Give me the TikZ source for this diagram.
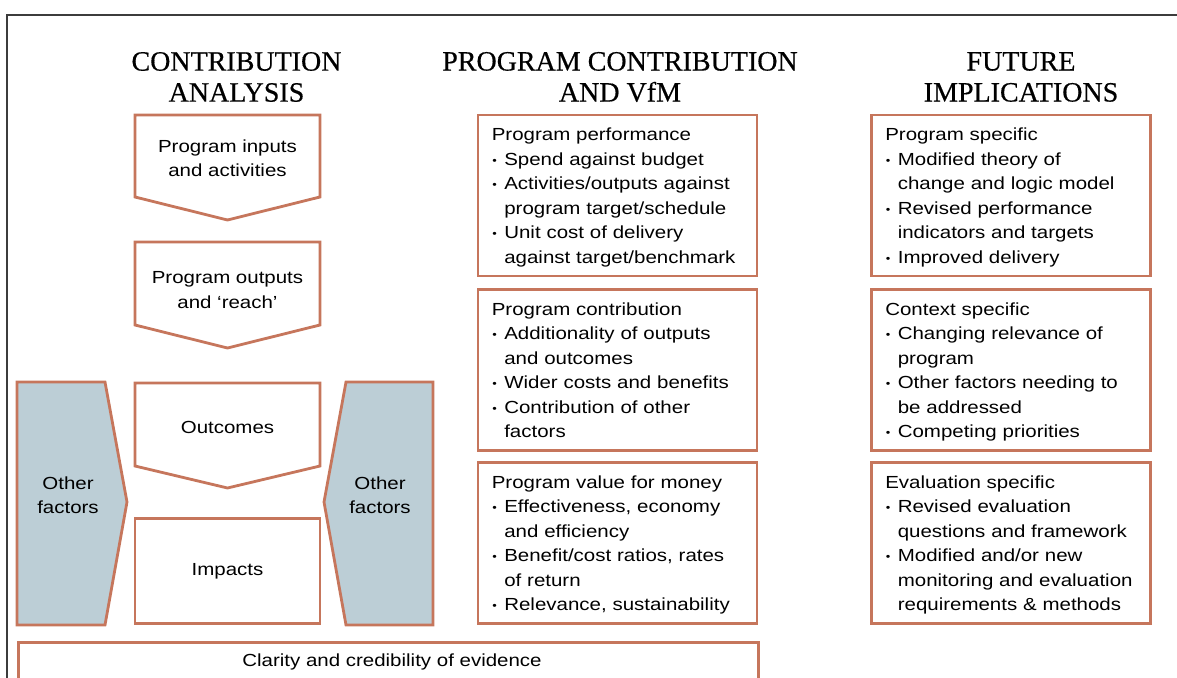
\documentclass[tikz,border=0pt]{standalone}
\usepackage{fontspec}
\setmainfont{Liberation Serif}
\newfontfamily\headfont[FakeBold=0.5]{Liberation Serif}
\newfontfamily\boxfont[FakeStretch=1.17]{Liberation Sans}
\definecolor{rust}{RGB}{198,118,92}
\definecolor{factorblue}{RGB}{188,206,214}
\definecolor{framegray}{RGB}{60,60,60}
\newcommand{\bul}{\makebox[12.5pt][l]{\hspace{0.5pt}\raisebox{1.2pt}{\fontsize{11}{11}\selectfont\textbullet}}}
\newcommand{\cont}{\hspace*{12.5pt}}
\tikzset{
  head/.style={align=center, font=\headfont\fontsize{28}{31}\selectfont},
  brdr/.style={draw=rust, line width=2.8pt},
  listbox/.style={brdr, rectangle, minimum width=279pt, minimum height=161pt, inner sep=0pt},
  listtext/.style={anchor=north west, inner sep=0pt, text width=262pt, align=left,
    font=\boxfont\fontsize{17.5}{24.5}\selectfont},
  chevtext/.style={align=center, inner sep=0pt, font=\boxfont\fontsize{17.5}{24.5}\selectfont}
}
\begin{document}
\begin{tikzpicture}[x=1pt, y=-1pt]
  \clip (0,0) rectangle (1177,677);
  % Frame
  \draw[framegray, line width=1.6pt] (1177,15) -- (7,15) -- (7,690);
  % Headers
  \node (hcontrib) [head] at (236.5,77) {CONTRIBUTION\\ANALYSIS};
  \node (hvfm) [head] at (620,77) {PROGRAM CONTRIBUTION\\AND VfM};
  \node (hfuture) [head] at (1021,77) {FUTURE\\IMPLICATIONS};
  % Contribution chain
  \draw[brdr, fill=white] (135,115) -- (320,115) -- (320,197) -- (227.5,220) -- (135,197) -- cycle;
  \draw[brdr, fill=white] (135,242) -- (320,242) -- (320,325) -- (227.5,348) -- (135,325) -- cycle;
  \draw[brdr, fill=white] (135,383) -- (320,383) -- (320,466) -- (227.5,488) -- (135,466) -- cycle;
  \node (impacts) [brdr, rectangle, minimum width=185pt, minimum height=105pt] at (227.5,571) {};
  \node (inputs) [chevtext] at (227.5,158) {Program inputs\\and activities};
  \node (outputs) [chevtext] at (227.5,290) {Program outputs\\and ‘reach’};
  \node (outcomes) [chevtext] at (227.5,427) {Outcomes};
  \node (impactstxt) [chevtext] at (impacts.center) {Impacts};
  % Other factors
  \draw[brdr, fill=factorblue] (17,382) -- (105,382) -- (127,502) -- (105,625) -- (17,625) -- cycle;
  \draw[brdr, fill=factorblue] (433,382) -- (346,382) -- (324,502) -- (346,625) -- (433,625) -- cycle;
  \node (factorsl) [chevtext] at (68,495) {Other\\factors};
  \node (factorsr) [chevtext] at (380,495) {Other\\factors};
  % Program contribution and VfM
  \node (perf) [listbox] at (617.5,195.5) {};
  \node (contrib) [listbox] at (617.5,370) {};
  \node (value) [listbox] at (617.5,543) {};
  \node (perftxt) [listtext] at ([shift={(15,10)}]perf.north west) {\strut Program performance\\
    \bul Spend against budget\\
    \bul Activities/outputs against\\ \cont program target/schedule\\
    \bul Unit cost of delivery\\ \cont against target/benchmark};
  \node (contribtxt) [listtext] at ([shift={(15,10)}]contrib.north west) {\strut Program contribution\\
    \bul Additionality of outputs\\ \cont and outcomes\\
    \bul Wider costs and benefits\\
    \bul Contribution of other\\ \cont factors};
  \node (valuetxt) [listtext] at ([shift={(15,10)}]value.north west) {\strut Program value for money\\
    \bul Effectiveness, economy\\ \cont and efficiency\\
    \bul Benefit/cost ratios, rates\\ \cont of return\\
    \bul Relevance, sustainability};
  % Future implications
  \node (progspec) [listbox] at (1011,195.5) {};
  \node (contspec) [listbox] at (1011,370) {};
  \node (evalspec) [listbox] at (1011,543) {};
  \node (progspectxt) [listtext] at ([shift={(15,10)}]progspec.north west) {\strut Program specific\\
    \bul Modified theory of\\ \cont change and logic model\\
    \bul Revised performance\\ \cont indicators and targets\\
    \bul Improved delivery};
  \node (contspectxt) [listtext] at ([shift={(15,10)}]contspec.north west) {\strut Context specific\\
    \bul Changing relevance of\\ \cont program\\
    \bul Other factors needing to\\ \cont be addressed\\
    \bul Competing priorities};
  \node (evalspectxt) [listtext] at ([shift={(15,10)}]evalspec.north west) {\strut Evaluation specific\\
    \bul Revised evaluation\\ \cont questions and framework\\
    \bul Modified and/or new\\ \cont monitoring and evaluation\\ \cont requirements \& methods};
  % Evidence bar
  \node (evidence) [brdr, rectangle, minimum width=740pt, minimum height=50pt, anchor=north west] at (17,641) {};
  \node (evidencetxt) [chevtext] at (392,662) {Clarity and credibility of evidence};
\end{tikzpicture}
\end{document}
